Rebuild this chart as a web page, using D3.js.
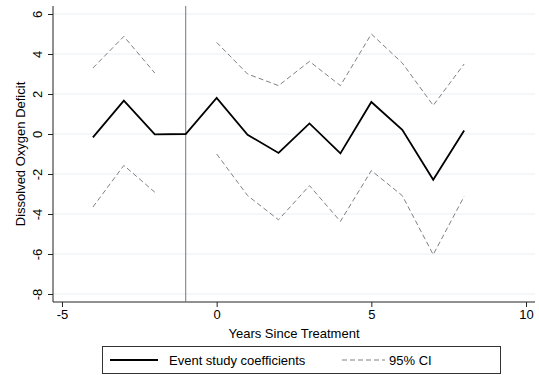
<!DOCTYPE html>
<html>
<head>
<meta charset="utf-8">
<script src="https://cdn.jsdelivr.net/npm/d3@7"></script>
<style>
  body { margin: 0; background: #fff; }
  text { font-family: "Liberation Sans", Arial, sans-serif; fill: #000; }
</style>
</head>
<body>
<div id="chart"></div>
<script>
// data
const years = [-4, -3, -2, -1, 0, 1, 2, 3, 4, 5, 6, 7, 8]
const coef = [-0.17, 1.67, -0.02, 0, 1.8, -0.04, -0.95, 0.53, -0.97, 1.6, 0.21, -2.29, 0.17]
const upper = [3.3, 4.88, 3.05, null, 4.58, 3.0, 2.42, 3.63, 2.42, 5.0, 3.55, 1.43, 3.5]
const lower = [-3.65, -1.57, -2.91, null, -1.0, -3.08, -4.29, -2.58, -4.37, -1.83, -3.08, -6.03, -3.12]
const xTicks = [-5, 0, 5, 10]
const yTicks = [-8, -6, -4, -2, 0, 2, 4, 6]
const treatYear = -1

const width = 539,
  height = 375,
  fontSize = 13

const plotL = 53, plotR = 535, plotT = 6, plotB = 302

let svg = d3.select('#chart')
  .append('svg')
  .attr('width', width)
  .attr('height', height)

const x = d3.scaleLinear()
  .domain([-5.29, 10.29])
  .range([plotL, plotR])

const y = d3.scaleLinear()
  .domain([-8.4, 6.4])
  .range([plotB, plotT])

// gridlines
svg.append('g')
  .selectAll('line')
  .data(yTicks)
  .enter()
  .append('line')
  .attr('x1', plotL)
  .attr('x2', plotR)
  .attr('y1', d => y(d))
  .attr('y2', d => y(d))
  .attr('stroke', '#e8f0f3')
  .attr('stroke-width', 1)

// y axis
let yAxis = svg.append('g')
  .attr('transform', `translate(${plotL},0)`)
  .call(d3.axisLeft(y).tickValues(yTicks).tickSize(5).tickPadding(9).tickSizeOuter(0))
yAxis.select('.domain').attr('stroke', '#222').attr('d', `M0,${plotT}V${plotB}`)
yAxis.selectAll('.tick line').attr('stroke', '#222')
yAxis.selectAll('.tick text')
  .attr('font-size', fontSize)
  .attr('transform', 'rotate(-90)')
  .attr('x', 0)
  .attr('y', -11)
  .attr('text-anchor', 'middle')
  .attr('dy', '0')
  .text(d => d)

// x axis
let xAxis = svg.append('g')
  .attr('transform', `translate(0,${plotB})`)
  .call(d3.axisBottom(x).tickValues(xTicks).tickSize(5).tickPadding(3).tickSizeOuter(0))
xAxis.select('.domain').attr('stroke', '#222').attr('d', `M${plotL},0H${plotR}`)
xAxis.selectAll('.tick line').attr('stroke', '#222')
xAxis.selectAll('.tick text').attr('font-size', fontSize).text(d => d)

// axis titles
svg.append('text')
  .attr('transform', `translate(25,${(plotT + plotB) / 2}) rotate(-90)`)
  .attr('text-anchor', 'middle')
  .attr('font-size', fontSize)
  .text('Dissolved Oxygen Deficit')

svg.append('text')
  .attr('x', (plotL + plotR) / 2)
  .attr('y', 337.5)
  .attr('text-anchor', 'middle')
  .attr('font-size', fontSize)
  .text('Years Since Treatment')

// treatment line
svg.append('line')
  .attr('x1', x(treatYear))
  .attr('x2', x(treatYear))
  .attr('y1', plotT)
  .attr('y2', plotB)
  .attr('stroke', '#777')
  .attr('stroke-width', 1)

const rows = years.map((yr, i) => ({ yr, c: coef[i], u: upper[i], l: lower[i] }))

const lineOf = key => d3.line()
  .defined(d => d[key] != null)
  .x(d => x(d.yr))
  .y(d => y(d[key]))

svg.append('path')
  .datum(rows)
  .attr('d', lineOf('u'))
  .attr('fill', 'none')
  .attr('stroke', '#808080')
  .attr('stroke-width', 1)
  .attr('stroke-dasharray', '5,3')

svg.append('path')
  .datum(rows)
  .attr('d', lineOf('l'))
  .attr('fill', 'none')
  .attr('stroke', '#808080')
  .attr('stroke-width', 1)
  .attr('stroke-dasharray', '5,3')

svg.append('path')
  .datum(rows)
  .attr('d', lineOf('c'))
  .attr('fill', 'none')
  .attr('stroke', '#000')
  .attr('stroke-width', 1.8)
  .attr('stroke-linejoin', 'miter')

// legend
let legend = svg.append('g')
legend.append('rect')
  .attr('x', 102.5)
  .attr('y', 346.5)
  .attr('width', 398)
  .attr('height', 27)
  .attr('fill', '#fff')
  .attr('stroke', '#333')
  .attr('stroke-width', 1)
legend.append('line')
  .attr('x1', 110).attr('x2', 158)
  .attr('y1', 360).attr('y2', 360)
  .attr('stroke', '#000').attr('stroke-width', 1.8)
legend.append('text')
  .attr('x', 169).attr('y', 364.5)
  .attr('font-size', fontSize)
  .text('Event study coefficients')
legend.append('line')
  .attr('x1', 342).attr('x2', 385)
  .attr('y1', 360).attr('y2', 360)
  .attr('stroke', '#808080').attr('stroke-width', 1)
  .attr('stroke-dasharray', '5,3')
legend.append('text')
  .attr('x', 389).attr('y', 364.5)
  .attr('font-size', fontSize)
  .text('95% CI')
</script>
</body>
</html>
